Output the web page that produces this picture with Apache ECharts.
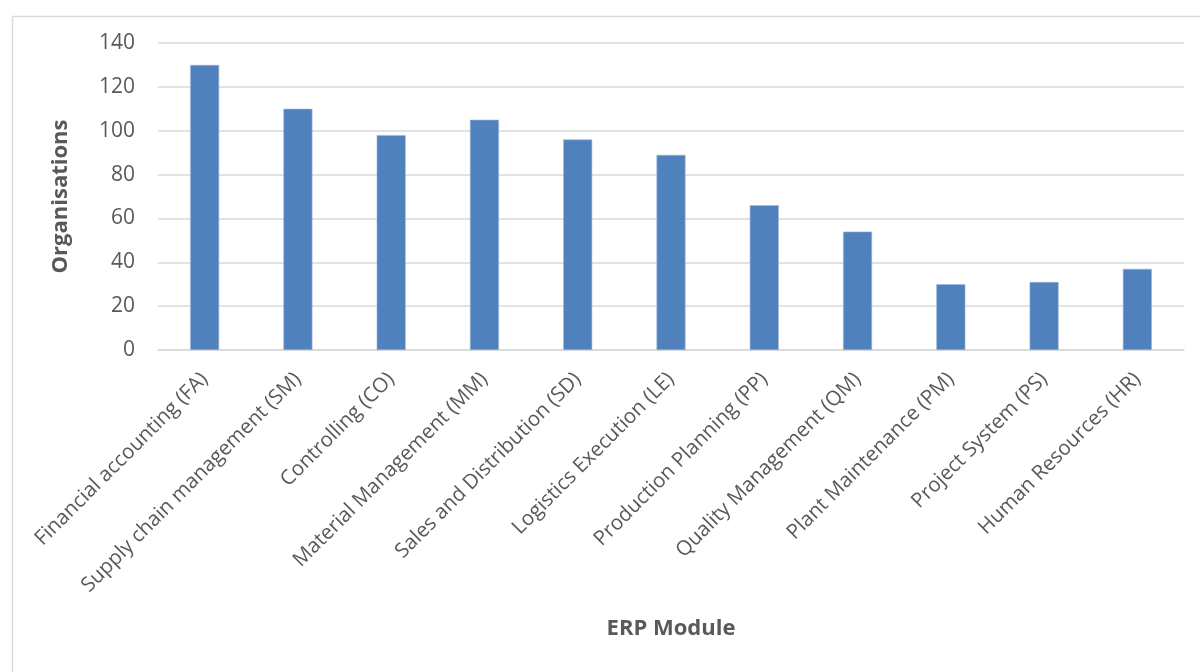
<!DOCTYPE html>
<html>
<head>
<meta charset="utf-8">
<script src="https://cdn.jsdelivr.net/npm/echarts@6/dist/echarts.min.js"></script>
<style>
  html, body { margin: 0; padding: 0; background: #ffffff; }
  #chart { width: 1200px; height: 672px; }
</style>
</head>
<body>
<div id="chart"></div>
<script>
// ERP modules in use and the number of organisations using each
const modules = [
  'Financial accounting (FA)',
  'Supply chain management (SM)',
  'Controlling (CO)',
  'Material Management (MM)',
  'Sales and Distribution (SD)',
  'Logistics Execution (LE)',
  'Production Planning (PP)',
  'Quality Management (QM)',
  'Plant Maintenance (PM)',
  'Project System (PS)',
  'Human Resources (HR)'
];
const organisations = [130, 110, 98, 105, 96, 89, 66, 54, 30, 31, 37];

const yMin = 0;
const yMax = 140;
const yStep = 20;

const textColor = '#595959';
const gridColor = '#d9d9d9';
const font = '"Open Sans", "Liberation Sans", sans-serif';

const chart = echarts.init(document.getElementById('chart'), null, { renderer: 'canvas' });

chart.setOption({
  animation: false,
  backgroundColor: '#ffffff',
  graphic: [{
    type: 'rect',
    left: 10,
    top: 14,
    shape: { width: 1200, height: 680 },
    style: { fill: 'none', stroke: gridColor, lineWidth: 1.5 },
    silent: true
  }],
  grid: { left: 158, right: 16, top: 43, bottom: 322, containLabel: false },
  xAxis: {
    type: 'category',
    data: modules,
    name: 'ERP Module',
    nameLocation: 'middle',
    nameGap: 268,
    nameTextStyle: { color: textColor, fontFamily: font, fontSize: 22, fontWeight: 'bold' },
    axisLine: { show: true, lineStyle: { color: gridColor, width: 1.5 } },
    axisTick: { show: false },
    axisLabel: {
      rotate: 45,
      margin: 26,
      interval: 0,
      color: textColor,
      fontFamily: font,
      fontSize: 20.5
    }
  },
  yAxis: {
    type: 'value',
    min: yMin,
    max: yMax,
    interval: yStep,
    name: 'Organisations',
    nameLocation: 'middle',
    nameGap: 86,
    nameTextStyle: { color: textColor, fontFamily: font, fontSize: 22, fontWeight: 'bold' },
    axisLine: { show: false },
    axisTick: { show: false },
    axisLabel: { margin: 23, color: textColor, fontFamily: font, fontSize: 21 },
    splitLine: { lineStyle: { color: gridColor, width: 1.5 } }
  },
  series: [{
    type: 'bar',
    data: organisations,
    barWidth: 29,
    itemStyle: { color: '#4f81bd', borderColor: '#9db7dc', borderWidth: 0.6 }
  }]
});
</script>
</body>
</html>
